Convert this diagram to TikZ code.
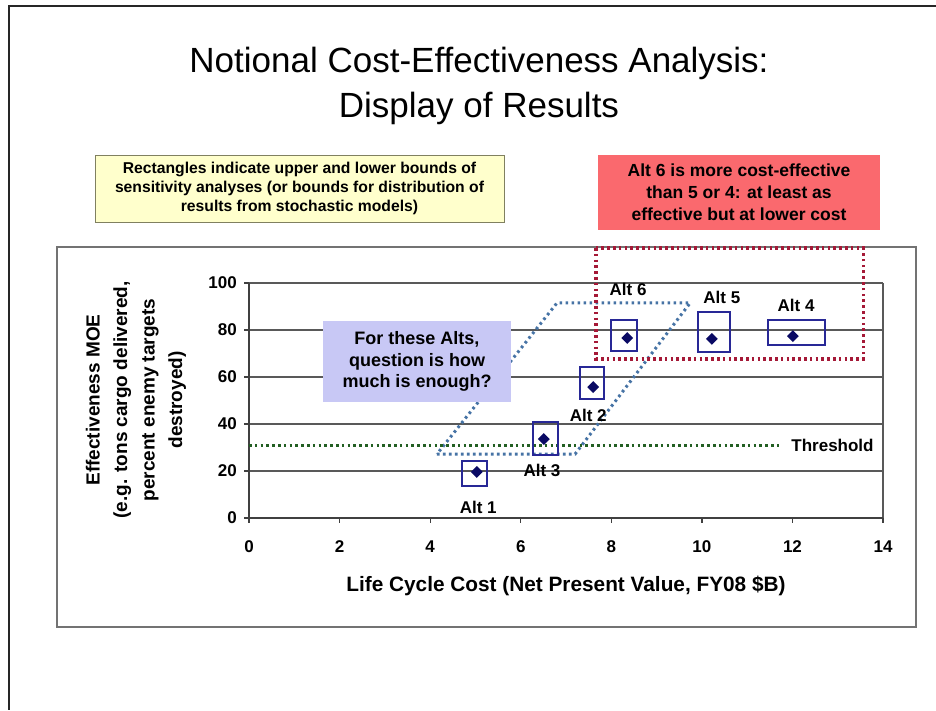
\documentclass[tikz,border=0pt]{standalone}
\usepackage{fontspec}
\setmainfont{Liberation Sans}
\usepackage{tikz}
\usetikzlibrary{shapes.geometric}
\definecolor{notefill}{RGB}{255,255,204}
\definecolor{noteline}{RGB}{128,128,96}
\definecolor{claimfill}{RGB}{250,105,110}
\definecolor{askfill}{RGB}{200,200,245}
\definecolor{altblue}{RGB}{40,40,150}
\definecolor{altdark}{RGB}{10,10,100}
\definecolor{bandblue}{RGB}{70,115,165}
\definecolor{threshgreen}{RGB}{35,95,35}
\definecolor{claimred}{RGB}{165,25,55}

\begin{document}
\begin{tikzpicture}[x=1pt, y=-1pt,
    note/.style={rectangle, draw=noteline, line width=1pt, fill=notefill, align=center, font=\bfseries\fontsize{15.7}{19}\selectfont},
    claim/.style={rectangle, fill=claimfill, align=center, font=\bfseries\fontsize{17.5}{22}\selectfont},
    ask/.style={rectangle, fill=askfill, align=center, font=\bfseries\fontsize{18}{21.5}\selectfont},
    gridln/.style={draw=black!65, line width=1.2pt},
    axisln/.style={draw=black!75, line width=1.3pt},
    ticklab/.style={font=\bfseries\fontsize{17}{20}\selectfont, inner sep=1pt},
    altlab/.style={font=\bfseries\fontsize{17}{20}\selectfont, inner sep=1pt},
    altbox/.style={draw=altblue, line width=2pt},
    diam/.style={diamond, fill=altdark, minimum width=12pt, minimum height=12pt, inner sep=0pt},
    band/.style={draw=bandblue, line width=3pt, dash pattern=on 2.6pt off 3.4pt},
    thresh/.style={draw=threshgreen, line width=3.2pt, dash pattern=on 2.6pt off 3.2pt},
    claimframe/.style={draw=claimred, line width=3.2pt, dash pattern=on 2.6pt off 3.2pt}]
    \useasboundingbox (0,0) rectangle (936,710);
    \draw[line width=1.5pt, black!85] (936,6) -- (9,6) -- (9,710);
    \node[anchor=base, font=\fontsize{35}{42}\selectfont] (title) at (479,72) {Notional Cost-Effectiveness Analysis:};
    \node[anchor=base, font=\fontsize{35}{42}\selectfont] (subtitle) at (479,117) {Display of Results};
    \node[note, minimum width=409pt, minimum height=67pt] (note) at (299.5,188.5) {Rectangles indicate upper and lower bounds of\\sensitivity analyses (or bounds for distribution of\\results from stochastic models)};
    \node[claim, minimum width=282pt, minimum height=75pt] (claim) at (739,192.5) {Alt 6 is more cost-effective\\than 5 or 4: at least as\\effective but at lower cost};
    \draw[draw=black!55, line width=1.2pt, fill=white] (57,247) rectangle (916,627);
    \begin{scope}[xshift=249pt, yshift=-518pt, x=45.29pt, y=2.35pt]
        \foreach \y in {20,40,...,100}
            \draw[gridln] (0,\y) -- (14,\y);
        \draw[gridln] (14,0) -- (14,100);
        \draw[axisln] (0,100) -- (0,0) -- (14,0);
        \foreach \y in {0,20,...,100}
        {
            \draw[axisln] (0,\y) -- ++(-5pt,0);
            \node[ticklab, anchor=east, xshift=-11pt] (yt\y) at (0,\y) {\y};
        }
        \foreach \x in {0,2,...,14}
        {
            \draw[axisln] (\x,0) -- ++(0,-5pt);
            \node[ticklab, yshift=-29pt] (xt\x) at (\x,0) {\x};
        }
        \draw[band] (4.15,27.2) -- (7.2,27.2) -- (9.74,91.5) -- (6.8,91.5) -- cycle;
        \coordinate (t0) at (0,31);
        \node[altlab, anchor=west] (thr) at (11.95,31) {Threshold};
        \draw[thresh] (t0) -- ([xshift=-11pt]thr.west);
        \draw[claimframe] (7.66,114.9) rectangle (13.56,67.7);
        \foreach \n/\cx/\cy/\xa/\ya/\xb/\yb/\lx/\ly in {1/5.03/19.6/4.7/13.6/5.26/24.3/5.06/4.3, 3/6.51/33.6/6.27/26.8/6.82/40.9/6.47/20.4, 2/7.6/55.7/7.31/50.6/7.84/64.3/7.49/43.8, 6/8.35/76.6/7.99/71.1/8.57/84.3/8.37/97.4, 5/10.22/76.2/9.91/70.6/10.62/87.7/10.44/94, 4/12.01/77.4/11.46/73.6/12.72/84.3/12.08/90.6}
        {
            \draw[altbox] (\xa,\ya) rectangle (\xb,\yb);
            \node[diam] (pt\n) at (\cx,\cy) {};
            \node[altlab] (alt\n) at (\lx,\ly) {Alt \n};
        }
    \end{scope}
    \node[ask, minimum width=188pt, minimum height=81pt] (ask) at (417,361.5) {For these Alts,\\question is how\\much is enough?};
    \node[rotate=90, align=center, font=\bfseries\fontsize{19}{27.5}\selectfont] (ytitle) at (136,400) {Effectiveness MOE\\(e.g. tons cargo delivered,\\percent enemy targets\\destroyed)};
    \node[font=\bfseries\fontsize{20.8}{24}\selectfont] (xtitle) at (566,586) {Life Cycle Cost (Net Present Value, FY08 \$B)};
\end{tikzpicture}
\end{document}
